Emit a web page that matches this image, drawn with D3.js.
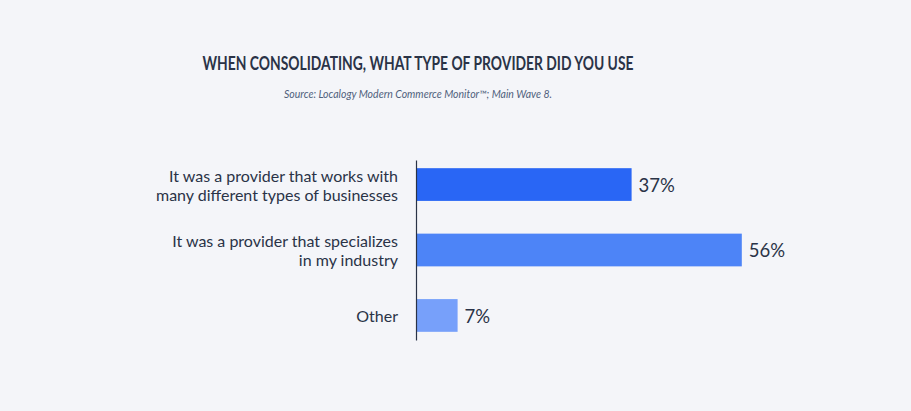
<!DOCTYPE html>
<html>
<head>
<meta charset="utf-8">
<script src="https://cdn.jsdelivr.net/npm/d3@7"></script>
<style>
  body { margin: 0; background: #f4f5f9; }
  svg { display: block; font-family: "Lato", "Open Sans", sans-serif; }
</style>
</head>
<body>
<svg id="chart"></svg>
<script>
const categories = [
  ["It was a provider that works with", "many different types of businesses"],
  ["It was a provider that specializes", "in my industry"],
  ["Other"]
];
const values = [37, 56, 7];
const barColors = ["#2966f5", "#4d84f7", "#77a0fa"];

const title = "WHEN CONSOLIDATING, WHAT TYPE OF PROVIDER DID YOU USE";
const source = "Source: Localogy Modern Commerce Monitor\u2122; Main Wave 8.";

const W = 911, H = 411;
const margin = { top: 160, right: 120, bottom: 71, left: 416 };

const svg = d3.select("#chart").attr("width", W).attr("height", H);

svg.append("rect").attr("width", W).attr("height", H).attr("fill", "#f4f5f9");

// Title and source line
svg.append("text")
  .attr("x", 418).attr("y", 69.5)
  .attr("text-anchor", "middle")
  .attr("fill", "#2a3347")
  .attr("textLength", 431)
  .attr("lengthAdjust", "spacingAndGlyphs")
  .style("font-weight", 700)
  .style("font-size", "18px")
  .text(title);

svg.append("text")
  .attr("x", 418).attr("y", 98)
  .attr("text-anchor", "middle")
  .attr("fill", "#4f5f7c")
  .style("font-style", "italic")
  .style("font-size", "10.5px")
  .text(source);

const xScale = d3.scaleLinear().domain([0, 60]).range([0, 348]);
const yScale = d3.scaleBand()
  .domain(d3.range(values.length))
  .range([0, H - margin.top - margin.bottom])
  .paddingInner(0.5)
  .paddingOuter(0.125);

const g = svg.append("g")
  .attr("transform", "translate(" + margin.left + "," + margin.top + ")");

// Bars
g.selectAll(".bar")
  .data(values)
  .enter().append("rect")
  .attr("class", "bar")
  .attr("x", 1)
  .attr("y", (d, i) => yScale(i))
  .attr("width", (d) => xScale(d))
  .attr("height", yScale.bandwidth())
  .attr("fill", (d, i) => barColors[i]);

// Value labels
g.selectAll(".val")
  .data(values)
  .enter().append("text")
  .attr("class", "val")
  .attr("x", (d) => xScale(d) + 8)
  .attr("y", (d, i) => yScale(i) + yScale.bandwidth() / 2 + 1)
  .attr("dy", "0.35em")
  .attr("fill", "#2a3347")
  .style("font-size", "18.5px")
  .text((d) => d + "%");

// Category axis
const yAxis = d3.axisLeft(yScale).tickSize(0).tickFormat("");
const axisG = g.append("g").attr("class", "y axis").call(yAxis);
axisG.select(".domain").attr("stroke", "#2a3347").attr("stroke-width", 1.2);

// Category labels (multi-line)
const labels = g.selectAll(".cat")
  .data(categories)
  .enter().append("text")
  .attr("class", "cat")
  .attr("text-anchor", "end")
  .attr("fill", "#2a3347")
  .style("font-size", "16px")
  .attr("transform", (d, i) =>
    "translate(-18," + (yScale(i) + yScale.bandwidth() / 2 + 1) + ")");

labels.selectAll("tspan")
  .data((d) => d.map((line, j) => ({ line, j, n: d.length })))
  .enter().append("tspan")
  .attr("x", 0)
  .attr("y", (d) => (d.j - (d.n - 1) / 2) * 19)
  .attr("dy", "0.35em")
  .text((d) => d.line);
</script>
</body>
</html>
